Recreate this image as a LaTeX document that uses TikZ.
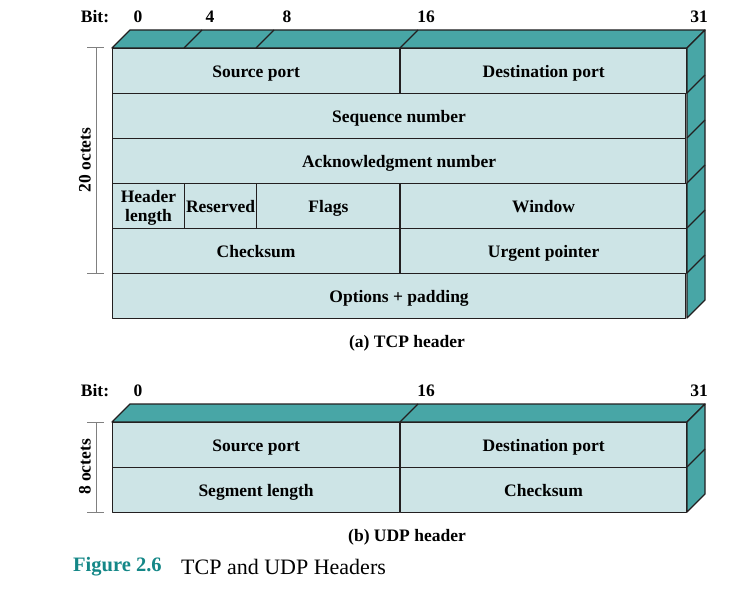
\documentclass[tikz,border=0pt]{standalone}
\usepackage{fontspec}
\setmainfont{Liberation Serif}
\usetikzlibrary{positioning}
\definecolor{facelight}{RGB}{205,228,230}
\definecolor{faceteal}{RGB}{72,166,166}
\definecolor{edgedark}{RGB}{35,31,32}
\definecolor{figteal}{RGB}{20,135,135}

\begin{document}
\begin{tikzpicture}[x=1bp, y=-1bp, line join=round,
    font=\fontsize{17.5bp}{19.5bp}\selectfont\bfseries,
    fieldbox/.style={draw=edgedark, fill=facelight, line width=1.3bp, inner sep=0pt,
                  anchor=north west, align=center, minimum height=45bp},
    field/.style={fieldbox, text height=16bp, text depth=3bp},
    depth/.style={draw=edgedark, fill=faceteal, line width=1.3bp},
    edge/.style={draw=edgedark, line width=1.3bp},
    bitlabel/.style={inner sep=0pt},
    octets/.style={draw=gray, line width=1bp}]
  \useasboundingbox (0,0) rectangle (736,589);

  % TCP header
  \node[bitlabel] (tcpbit) at (95,17)  {Bit:};
  \node[bitlabel] (tcpb0)  at (138,17) {0};
  \node[bitlabel] (tcpb4)  at (210,17) {4};
  \node[bitlabel] (tcpb8)  at (287,17) {8};
  \node[bitlabel] (tcpb16) at (426,17) {16};
  \node[bitlabel] (tcpb31) at (699,17) {31};

  \draw[depth] (112,48) -- (130,30) -- (705,30) -- (687,48) -- cycle;
  \draw[depth] (687,48) -- (705,30) -- (705,300) -- (687,318) -- cycle;
  \foreach \bx in {184,256,400}
    \draw[edge] (\bx,48) -- ++(18,-18);
  \foreach \ry in {93,138,...,273}
    \draw[edge] (687,\ry) -- ++(18,-18);

  \node[field, minimum width=288] (srcport)  at (112,48)  {Source port};
  \node[field, minimum width=287] (dstport)  at (400,48)  {Destination port};
  \node[field, minimum width=575] (seqnum)   at (112,93)  {Sequence number};
  \node[field, minimum width=575] (acknum)   at (112,138) {Acknowledgment number};
  \node[fieldbox, minimum width=72, text depth=0bp] (hdrlen) at (112,183) {Header\\length};
  \node[field, minimum width=72]  (reserved) at (184,183) {Reserved};
  \node[field, minimum width=144] (flags)    at (256,183) {Flags};
  \node[field, minimum width=287] (window)   at (400,183) {Window};
  \node[field, minimum width=288] (tcpcheck) at (112,228) {Checksum};
  \node[field, minimum width=287] (urgent)   at (400,228) {Urgent pointer};
  \node[field, minimum width=575] (options)  at (112,273) {Options + padding};

  \draw[octets] (87,48) -- (104,48);
  \draw[octets] (96,48) -- (96,273);
  \draw[octets] (87,273) -- (104,273);
  \node[rotate=90] (tcpoctets) at (85,160) {20 octets};

  \node (tcpcaption) at (407,343) {(a) TCP header};

  % UDP header
  \node[bitlabel] (udpbit) at (95,391)  {Bit:};
  \node[bitlabel] (udpb0)  at (138,391) {0};
  \node[bitlabel] (udpb16) at (426,391) {16};
  \node[bitlabel] (udpb31) at (699,391) {31};

  \draw[depth] (112,422) -- (130,404) -- (705,404) -- (687,422) -- cycle;
  \draw[depth] (687,422) -- (705,404) -- (705,494) -- (687,512) -- cycle;
  \draw[edge] (400,422) -- ++(18,-18);
  \draw[edge] (687,467) -- ++(18,-18);

  \node[field, minimum width=288] (udpsrc)   at (112,422) {Source port};
  \node[field, minimum width=287] (udpdst)   at (400,422) {Destination port};
  \node[field, minimum width=288] (seglen)   at (112,467) {Segment length};
  \node[field, minimum width=287] (udpcheck) at (400,467) {Checksum};

  \draw[octets] (87,422) -- (104,422);
  \draw[octets] (96,422) -- (96,512);
  \draw[octets] (87,512) -- (104,512);
  \node[rotate=90] (udpoctets) at (85,467) {8 octets};

  \node (udpcaption) at (407,537) {(b) UDP header};

  % figure caption
  \node[anchor=west, inner sep=0pt, text=figteal, font=\fontsize{20.5bp}{22bp}\selectfont\bfseries]
    (figlabel) at (73,567) {Figure 2.6};
  \node[anchor=west, inner sep=0pt, font=\fontsize{22bp}{24bp}\selectfont]
    (figtitle) at (181,567) {TCP and UDP Headers};
\end{tikzpicture}
\end{document}
